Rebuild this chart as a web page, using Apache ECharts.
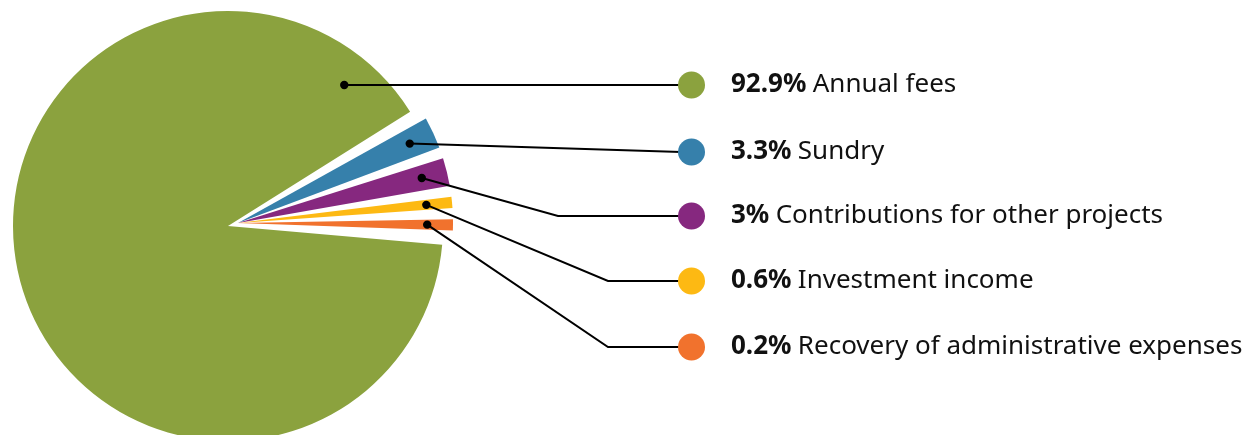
<!DOCTYPE html>
<html>
<head>
<meta charset="utf-8">
<script src="https://cdn.jsdelivr.net/npm/echarts@6/dist/echarts.min.js"></script>
<style>
html,body{margin:0;padding:0;background:#ffffff;}
#chart{width:1249px;height:435px;}
</style>
</head>
<body>
<div id="chart"></div>
<script>
// ---- data ----
const categories = ['Annual fees', 'Sundry', 'Contributions for other projects', 'Investment income', 'Recovery of administrative expenses'];
const values = [92.9, 3.3, 3, 0.6, 0.2];
const colors = ['#8ba23e', '#3680ab', '#86287f', '#fdb913', '#f1722d'];

// ---- layout ----
const CX = 228, CY = 226, R = 215;          // main pie
const ECX = 238, ECY = 223;                 // exploded group centre
const LABEL_X = 678;
const LABEL_Y = [85, 152, 216, 281, 347];
const ELBOW_X = [null, null, 558, 608, 608];
const FONT = 'Noto Sans';

const dotPts = [];

const rich = {
  pct: { fontFamily: FONT, fontWeight: 'bold', fontSize: 26, color: '#111111', padding: [0, 3, 0, 0] },
  nm: { fontFamily: FONT, fontSize: 26, color: '#111111' },
  gap: { width: 26, height: 27 }
};
colors.forEach(function (c, i) {
  rich['dot' + i] = { width: 27, height: 27, borderRadius: 13.5, backgroundColor: c };
});

// mode: 'main' (green only), 'explode' (small slices only), 'labels' (transparent, carries labels)
function makeData(mode) {
  return values.map(function (v, i) {
    let vis = false;
    if (mode === 'main') vis = i === 0;
    if (mode === 'explode') vis = i !== 0;
    return {
      value: v,
      name: categories[i],
      itemStyle: { color: vis ? colors[i] : 'rgba(0,0,0,0)' }
    };
  });
}

function labelLayout(params) {
  const i = params.dataIndex;
  const y = LABEL_Y[i];
  const end = [LABEL_X + 3, y];
  let start;
  if (i === 0) {
    const rr = 0.85 * R;
    start = [CX + Math.sqrt(rr * rr - (CY - y) * (CY - y)), y];
  } else {
    const p0 = params.labelLinePoints ? params.labelLinePoints[0] : null;
    if (!p0) return {};
    const a = Math.atan2(p0[1] - ECY, p0[0] - ECX);
    const rr = 0.88 * R;
    start = [ECX + rr * Math.cos(a), ECY + rr * Math.sin(a)];
  }
  dotPts[i] = start;
  const mid = ELBOW_X[i] == null ? [(start[0] + end[0]) / 2, (start[1] + end[1]) / 2] : [ELBOW_X[i], y];
  return {
    x: LABEL_X,
    y: y,
    align: 'left',
    verticalAlign: 'middle',
    labelLinePoints: [start, mid, end]
  };
}

function formatter(p) {
  return '{dot' + p.dataIndex + '| }{gap| }{pct|' + values[p.dataIndex] + '%} {nm|' + categories[p.dataIndex] + '}';
}

function pieSeries(mode, z) {
  const withLabels = mode === 'labels';
  const s = {
    type: 'pie',
    z: z,
    center: mode === 'main' ? [CX, CY] : [ECX, ECY],
    radius: R,
    startAngle: -3.5,
    clockwise: true,
    padAngle: 3,
    minAngle: 3,
    avoidLabelOverlap: false,
    silent: true,
    emphasis: { disabled: true },
    itemStyle: { borderWidth: 0 },
    data: makeData(mode)
  };
  if (withLabels) {
    s.label = { show: true, position: 'outside', formatter: formatter, rich: rich };
    s.labelLine = { show: true, lineStyle: { color: '#000000', width: 2 } };
    s.labelLayout = labelLayout;
  } else {
    s.label = { show: false };
    s.labelLine = { show: false };
  }
  return s;
}

const chart = echarts.init(document.getElementById('chart'), null, { renderer: 'canvas' });
chart.setOption({
  animation: false,
  backgroundColor: '#ffffff',
  series: [pieSeries('main', 2), pieSeries('explode', 3), pieSeries('labels', 4)]
});

const dots = [];
dotPts.forEach(function (p) {
  if (!p) return;
  dots.push({ type: 'circle', shape: { cx: p[0], cy: p[1], r: 4.2 }, style: { fill: '#000000' }, z: 100, silent: true });
});
chart.setOption({ graphic: dots });
</script>
</body>
</html>
